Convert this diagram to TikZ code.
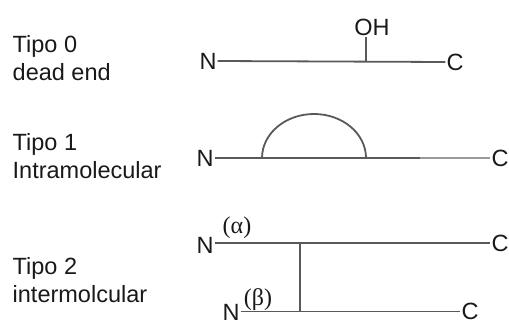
\documentclass[tikz,border=0pt]{standalone}
\usepackage{fontspec}
\setmainfont{Liberation Sans}
\newfontfamily\greekserif{Liberation Serif}
\begin{document}
\begin{tikzpicture}[x=1pt,y=1pt,
  lbl/.style={font=\fontsize{23.5}{28}\selectfont, text=black!90, inner sep=1pt},
  desc/.style={lbl, align=left, anchor=west},
  greek/.style={font=\greekserif\fontsize{24}{27}\selectfont, text=black!90, inner sep=0pt},
  chain/.style={draw=black!65, line width=1.8pt},
  chainlight/.style={draw=black!40, line width=1.8pt}]
\useasboundingbox (0,0) rectangle (509,325);
% descriptions
\node[desc] (t0) at (11.5,266.5) {Tipo 0\\dead end};
\node[desc] (t1) at (11.5,168.5) {Tipo 1\\Intramolecular};
\node[desc] (t2) at (11.5,44.5) {Tipo 2\\intermolcular};
% Tipo 0
\node[lbl] (N0) at (208,264) {N};
\node[lbl] (C0) at (455,263) {C};
\node[lbl] (OH) at (372,298) {OH};
\coordinate (j0) at (366,263);
\draw[chain] (N0.east) -- (C0.west);
\draw[chain] (j0) -- (j0 |- OH.south);
% Tipo 1
\node[lbl] (N1) at (205,167) {N};
\node[lbl] (C1) at (500,167) {C};
\coordinate (a1) at (262,167);
\coordinate (m1) at (420,167);
\draw[chain] (N1.east) -- (m1);
\draw[chainlight] (m1) -- (C1.west);
\draw[chain] (a1) arc[start angle=180, end angle=0, x radius=52, y radius=44];
% Tipo 2
\node[lbl] (N2a) at (205,80) {N};
\node[lbl] (C2a) at (500,82) {C};
\node[greek] (al) at (237,97) {(α)};
\node[lbl] (N2b) at (231,12.5) {N};
\node[lbl] (C2b) at (470,13.5) {C};
\node[greek] (be) at (258,25) {(β)};
\coordinate (ja) at (300,82);
\coordinate (jb) at (300,13.5);
\draw[chain] (N2a.east |- ja) -- (C2a.west |- ja);
\draw[chain] (N2b.east |- jb) -- (C2b.west |- jb);
\draw[chain] (ja) -- (jb);
\end{tikzpicture}
\end{document}
